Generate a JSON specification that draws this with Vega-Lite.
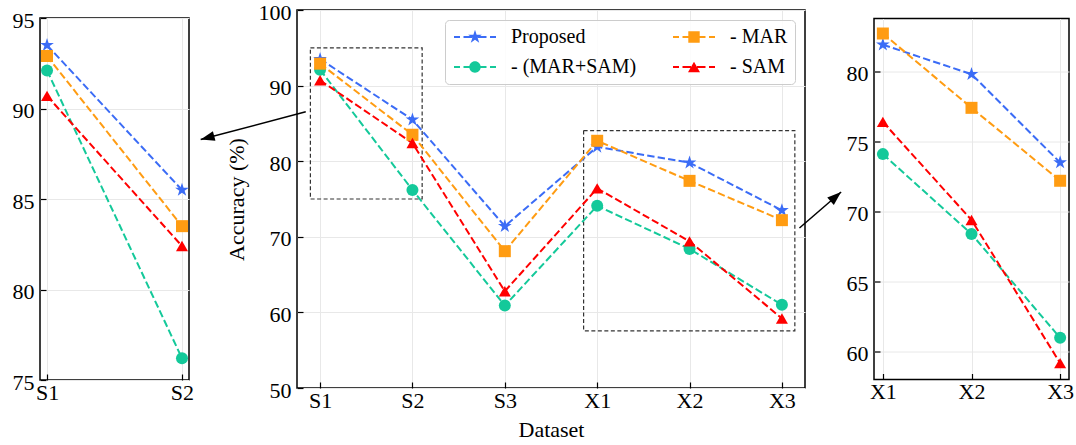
{
  "$schema": "https://vega.github.io/schema/vega-lite/v6.json",
  "padding": {"left": 11, "top": 0, "right": 0, "bottom": 0},
  "bounds": "flush",
  "center": true,
  "spacing": 0,
  "datasets": {
    "acc": [
      {"dataset": "S1", "method": "Proposed", "acc": 93.5},
      {"dataset": "S1", "method": "- (MAR+SAM)", "acc": 92.1},
      {"dataset": "S1", "method": "- MAR", "acc": 92.9},
      {"dataset": "S1", "method": "- SAM", "acc": 90.7},
      {"dataset": "S2", "method": "Proposed", "acc": 85.5},
      {"dataset": "S2", "method": "- (MAR+SAM)", "acc": 76.2},
      {"dataset": "S2", "method": "- MAR", "acc": 83.5},
      {"dataset": "S2", "method": "- SAM", "acc": 82.4},
      {"dataset": "S3", "method": "Proposed", "acc": 71.4},
      {"dataset": "S3", "method": "- (MAR+SAM)", "acc": 60.9},
      {"dataset": "S3", "method": "- MAR", "acc": 68.1},
      {"dataset": "S3", "method": "- SAM", "acc": 62.8},
      {"dataset": "X1", "method": "Proposed", "acc": 81.9},
      {"dataset": "X1", "method": "- (MAR+SAM)", "acc": 74.1},
      {"dataset": "X1", "method": "- MAR", "acc": 82.7},
      {"dataset": "X1", "method": "- SAM", "acc": 76.4},
      {"dataset": "X2", "method": "Proposed", "acc": 79.8},
      {"dataset": "X2", "method": "- (MAR+SAM)", "acc": 68.4},
      {"dataset": "X2", "method": "- MAR", "acc": 77.4},
      {"dataset": "X2", "method": "- SAM", "acc": 69.4},
      {"dataset": "X3", "method": "Proposed", "acc": 73.5},
      {"dataset": "X3", "method": "- (MAR+SAM)", "acc": 61.0},
      {"dataset": "X3", "method": "- MAR", "acc": 72.2},
      {"dataset": "X3", "method": "- SAM", "acc": 59.2}
    ],
    "boxes": [
      {"zoom": "S", "x0": -0.105, "x1": 1.105, "y0": 75, "y1": 95},
      {"zoom": "X", "x0": 2.853, "x1": 5.14, "y0": 57.56, "y1": 84.05}
    ],
    "arrows": [
      {"id": "left", "xs": -0.155, "ys": 86.53, "xt": -1.293, "yt": 82.86},
      {"id": "right", "xs": 5.19, "ys": 71.17, "xt": 5.641, "yt": 75.93}
    ]
  },
  "data": {"name": "acc"},
  "resolve": {
    "scale": {"color": "independent", "shape": "independent"},
    "legend": {"color": "independent", "shape": "independent"}
  },
  "hconcat": [
    {
      "width": 149,
      "height": 362,
      "transform": [{"filter": "datum.dataset === 'S1' || datum.dataset === 'S2'"}],
      "encoding": {
        "x": {"field": "dataset", "type": "ordinal", "scale": {"type": "point", "padding": 0.052}, "axis": {"title": null, "labelAngle": 0, "grid": true}},
        "y": {"field": "acc", "type": "quantitative", "scale": {"domain": [75, 95], "nice": false, "zero": false}, "axis": {"title": null, "values": [75, 80, 85, 90, 95], "grid": true}},
        "color": {"field": "method", "type": "nominal", "legend": null,
          "scale": {"domain": ["Proposed", "- (MAR+SAM)", "- MAR", "- SAM"], "range": ["#3B6CF6", "#14C99A", "#FF9C12", "#FF0000"]}}
      },
      "layer": [
        {"mark": {"type": "line", "strokeWidth": 2, "strokeDash": [7.4, 3.2]}},
        {"mark": {"type": "point", "filled": true, "opacity": 1, "size": 144},
          "encoding": {"shape": {"field": "method", "type": "nominal", "legend": null,
            "scale": {"domain": ["Proposed", "- (MAR+SAM)", "- MAR", "- SAM"], "range": ["M0,-1.2L0.27,-0.372L1.141,-0.371L0.437,0.142L0.705,0.971L0,0.46L-0.705,0.971L-0.437,0.142L-1.141,-0.371L-0.27,-0.372Z", "circle", "square", "triangle-up"]}}}}
      ]
    },
    {"width": 108, "height": 10, "view": {"stroke": null}, "data": {"values": []}, "mark": "point"},
    {
      "width": 508,
      "height": 378,
      "layer": [
        {
          "data": {"name": "boxes"},
          "mark": {"type": "rect", "fill": "transparent", "stroke": "#333333", "strokeWidth": 1.2, "strokeDash": [4, 2.5]},
          "encoding": {
            "x": {"field": "x0", "type": "quantitative", "scale": {"domain": [-0.25, 5.25], "nice": false, "zero": false}},
            "x2": {"field": "x1"},
            "y": {"field": "y0", "type": "quantitative"},
            "y2": {"field": "y1"}
          }
        },
        {
          "transform": [{"calculate": "indexof(['S1','S2','S3','X1','X2','X3'], datum.dataset)", "as": "xi"}],
          "encoding": {
            "x": {"field": "xi", "type": "quantitative", "scale": {"domain": [-0.25, 5.25], "nice": false, "zero": false},
              "axis": {"title": "Dataset", "values": [0, 1, 2, 3, 4, 5], "labelExpr": "['S1','S2','S3','X1','X2','X3'][datum.value]", "grid": true, "titlePadding": 8}},
            "y": {"field": "acc", "type": "quantitative", "scale": {"domain": [50, 100], "nice": false, "zero": false},
              "axis": {"title": "Accuracy (%)", "values": [50, 60, 70, 80, 90, 100], "grid": true, "titlePadding": 10}},
            "color": {"field": "method", "type": "nominal",
              "scale": {"domain": ["Proposed", "- (MAR+SAM)", "- MAR", "- SAM"], "range": ["#3B6CF6", "#14C99A", "#FF9C12", "#FF0000"]},
              "legend": {
                "title": null, "orient": "top-right", "offset": 10, "columns": 2,
                "labelFont": "Liberation Serif", "labelFontSize": 20, "labelColor": "black", "labelLimit": 300,
                "padding": 7, "rowPadding": 10, "columnPadding": 34,
                "symbolSize": 144, "symbolOffset": 13, "labelOffset": 26, "symbolStrokeWidth": 0,
                "fillColor": "rgba(255,255,255,0.85)", "strokeColor": "#cccccc", "cornerRadius": 4
              }}
          },
          "layer": [
            {"mark": {"type": "line", "strokeWidth": 2, "strokeDash": [7.4, 3.2]}},
            {"transform": [{"filter": "datum.method === 'Proposed'"}],
              "mark": {"type": "point", "filled": true, "opacity": 1, "size": 144, "shape": "M0,-1.2L0.27,-0.372L1.141,-0.371L0.437,0.142L0.705,0.971L0,0.46L-0.705,0.971L-0.437,0.142L-1.141,-0.371L-0.27,-0.372Z"}},
            {"transform": [{"filter": "datum.method === '- (MAR+SAM)'"}],
              "mark": {"type": "point", "filled": true, "opacity": 1, "size": 144, "shape": "circle"}},
            {"transform": [{"filter": "datum.method === '- MAR'"}],
              "mark": {"type": "point", "filled": true, "opacity": 1, "size": 144, "shape": "square"}},
            {"transform": [{"filter": "datum.method === '- SAM'"}],
              "mark": {"type": "point", "filled": true, "opacity": 1, "size": 144, "shape": "triangle-up"}},
            {"transform": [{"filter": "false"}],
              "mark": {"type": "point", "filled": true, "opacity": 1, "size": 144},
              "encoding": {"shape": {"field": "method", "type": "nominal",
                "scale": {"domain": ["Proposed", "- (MAR+SAM)", "- MAR", "- SAM"], "range": [
                  "M-3.5,-0.167H-2.5V0.167H-3.5ZM-1.917,-0.167H-0.5V0.167H-1.917ZM0.5,-0.167H1.917V0.167H0.5ZM2.5,-0.167H3.5V0.167H2.5ZM0,-1.2L0.27,-0.372L1.141,-0.371L0.437,0.142L0.705,0.971L0,0.46L-0.705,0.971L-0.437,0.142L-1.141,-0.371L-0.27,-0.372Z",
                  "M-3.5,-0.167H-2.5V0.167H-3.5ZM-1.917,-0.167H-0.5V0.167H-1.917ZM0.5,-0.167H1.917V0.167H0.5ZM2.5,-0.167H3.5V0.167H2.5ZM0.95,0A0.95,0.95,0,1,1,-0.95,0A0.95,0.95,0,1,1,0.95,0Z",
                  "M-3.5,-0.167H-2.5V0.167H-3.5ZM-1.917,-0.167H-0.5V0.167H-1.917ZM0.5,-0.167H1.917V0.167H0.5ZM2.5,-0.167H3.5V0.167H2.5ZM-0.95,-0.95L0.95,-0.95L0.95,0.95L-0.95,0.95Z",
                  "M-3.5,-0.167H-2.5V0.167H-3.5ZM-1.917,-0.167H-0.5V0.167H-1.917ZM0.5,-0.167H1.917V0.167H0.5ZM2.5,-0.167H3.5V0.167H2.5ZM0,-0.87L1,0.87L-1,0.87Z"
                ]},
                "legend": {
                  "title": null, "orient": "top-right", "offset": 10, "columns": 2,
                  "labelFont": "Liberation Serif", "labelFontSize": 20, "labelColor": "black", "labelLimit": 300,
                  "padding": 7, "rowPadding": 10, "columnPadding": 34,
                  "symbolSize": 144, "symbolOffset": 13, "labelOffset": 26, "symbolStrokeWidth": 0,
                  "fillColor": "rgba(255,255,255,0.85)", "strokeColor": "#cccccc", "cornerRadius": 4
                }}}}
          ]
        },
        {
          "data": {"name": "arrows"},
          "mark": {"type": "rule", "color": "black", "strokeWidth": 1.5},
          "encoding": {
            "x": {"field": "xs", "type": "quantitative"},
            "y": {"field": "ys", "type": "quantitative"},
            "x2": {"field": "xt"},
            "y2": {"field": "yt"}
          }
        },
        {
          "data": {"name": "arrows"},
          "transform": [{"filter": "datum.id === 'left'"}],
          "mark": {"type": "point", "filled": true, "color": "black", "opacity": 1, "size": 100, "angle": 255, "shape": "M0,0L-1,2.8L1,2.8Z"},
          "encoding": {
            "x": {"field": "xt", "type": "quantitative"},
            "y": {"field": "yt", "type": "quantitative"}
          }
        },
        {
          "data": {"name": "arrows"},
          "transform": [{"filter": "datum.id === 'right'"}],
          "mark": {"type": "point", "filled": true, "color": "black", "opacity": 1, "size": 100, "angle": 49, "shape": "M0,0L-1,2.8L1,2.8Z"},
          "encoding": {
            "x": {"field": "xt", "type": "quantitative"},
            "y": {"field": "yt", "type": "quantitative"}
          }
        }
      ]
    },
    {"width": 69, "height": 10, "view": {"stroke": null}, "data": {"values": []}, "mark": "point"},
    {
      "width": 195,
      "height": 361,
      "transform": [{"filter": "datum.dataset === 'X1' || datum.dataset === 'X2' || datum.dataset === 'X3'"}],
      "encoding": {
        "x": {"field": "dataset", "type": "ordinal", "scale": {"type": "point", "padding": 0.1}, "axis": {"title": null, "labelAngle": 0, "grid": true}},
        "y": {"field": "acc", "type": "quantitative", "scale": {"domain": [58.03, 83.77], "nice": false, "zero": false}, "axis": {"title": null, "values": [60, 65, 70, 75, 80], "grid": true}},
        "color": {"field": "method", "type": "nominal", "legend": null,
          "scale": {"domain": ["Proposed", "- (MAR+SAM)", "- MAR", "- SAM"], "range": ["#3B6CF6", "#14C99A", "#FF9C12", "#FF0000"]}}
      },
      "layer": [
        {"mark": {"type": "line", "strokeWidth": 2, "strokeDash": [7.4, 3.2]}},
        {"mark": {"type": "point", "filled": true, "opacity": 1, "size": 144},
          "encoding": {"shape": {"field": "method", "type": "nominal", "legend": null,
            "scale": {"domain": ["Proposed", "- (MAR+SAM)", "- MAR", "- SAM"], "range": ["M0,-1.2L0.27,-0.372L1.141,-0.371L0.437,0.142L0.705,0.971L0,0.46L-0.705,0.971L-0.437,0.142L-1.141,-0.371L-0.27,-0.372Z", "circle", "square", "triangle-up"]}}}}
      ]
    }
  ],
  "config": {
    "font": "Liberation Serif",
    "view": {"stroke": "black", "strokeWidth": 1.5},
    "axis": {
      "labelFont": "Liberation Serif", "labelFontSize": 22, "labelColor": "black",
      "titleFont": "Liberation Serif", "titleFontSize": 22, "titleFontWeight": "normal", "titleColor": "black",
      "domain": false, "tickColor": "black", "tickSize": -6, "tickWidth": 1.2,
      "gridColor": "#e8e8e8", "gridWidth": 1, "labelPadding": 8,
      "labelFlush": false, "labelOverlap": false, "labelBound": false
    },
    "axisY": {"labelPadding": 12, "labelOffset": 2}
  }
}
